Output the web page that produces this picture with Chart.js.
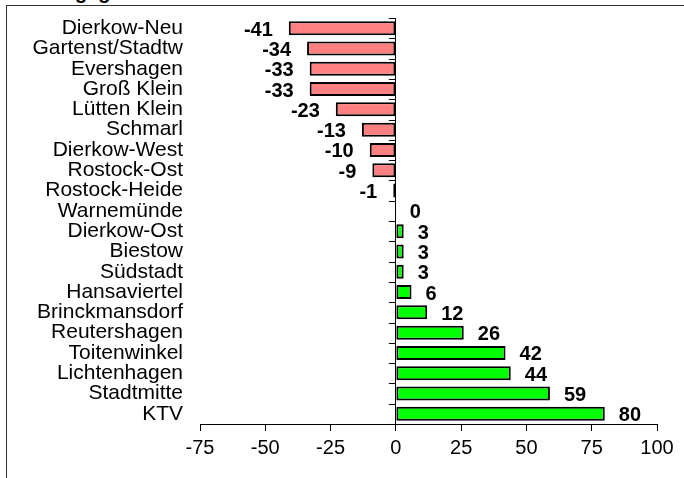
<!DOCTYPE html>
<html>
<head>
<meta charset="utf-8">
<script src="https://cdn.jsdelivr.net/npm/chart.js@4"></script>
<style>
  body { margin: 0; width: 684px; height: 478px; overflow: hidden; background: #fff; position: relative; font-family: "Liberation Sans", Arial, sans-serif; }
  #title { position: absolute; left: 75px; top: -18px; font: bold 20px "Liberation Sans", Arial, sans-serif; line-height: 20px; white-space: nowrap; color: #000; }
  #frame { position: absolute; left: 6px; top: 5px; width: 700px; height: 500px; border-left: 1px solid #333; border-top: 1px solid #333; }
  #chart { position: absolute; left: 0; top: 0; }
</style>
</head>
<body>
<div id="title">gegenüber dem Jahr 2010 nach Stadtbereichen in %</div>
<div id="frame"></div>
<canvas id="chart" width="684" height="478"></canvas>
<script>
const categories = ['Dierkow-Neu', 'Gartenst/Stadtw', 'Evershagen', 'Groß Klein', 'Lütten Klein', 'Schmarl',
    'Dierkow-West', 'Rostock-Ost', 'Rostock-Heide', 'Warnemünde', 'Dierkow-Ost', 'Biestow', 'Südstadt',
    'Hansaviertel', 'Brinckmansdorf', 'Reutershagen', 'Toitenwinkel', 'Lichtenhagen', 'Stadtmitte', 'KTV'];
const values = [-41, -34, -33, -33, -23, -13, -10, -9, -1, 0, 3, 3, 3, 6, 12, 26, 42, 44, 59, 80];
const xMin = -75;
const xMax = 100;
const xStep = 25;

// kleine Striche an der Nulllinie zwischen den Kategorien
const catTicks = {
    id: 'catTicks',
    afterDraw(chart) {
        const ctx = chart.ctx;
        const y = chart.scales.y;
        const x0 = chart.scales.x.getPixelForValue(0);
        const n = categories.length;
        ctx.save();
        ctx.strokeStyle = '#000';
        ctx.lineWidth = 1;
        ctx.beginPath();
        for (let i = 0; i <= n; i++) {
            const py = Math.round(y.top + i * y.height / n) + 0.5;
            ctx.moveTo(x0 - 7, py);
            ctx.lineTo(x0, py);
        }
        ctx.stroke();
        ctx.restore();
    }
};

// Werte neben den Balken
const valueLabels = {
    id: 'valueLabels',
    afterDatasetsDraw(chart) {
        const ctx = chart.ctx;
        const meta = chart.getDatasetMeta(0);
        ctx.save();
        ctx.font = 'bold 20px "Liberation Sans", Arial, sans-serif';
        ctx.fillStyle = '#000';
        ctx.textBaseline = 'middle';
        meta.data.forEach((bar, i) => {
            const v = values[i];
            if (v < 0) {
                ctx.textAlign = 'right';
                ctx.fillText(String(v), bar.x - 16, bar.y + 2);
            } else {
                ctx.textAlign = 'left';
                ctx.fillText(String(v), bar.x + 14, bar.y + 2);
            }
        });
        ctx.restore();
    }
};

new Chart(document.getElementById('chart'), {
    type: 'bar',
    data: {
        labels: categories,
        datasets: [{
            data: values,
            backgroundColor: values.map(v => v < 0 ? '#FF8080' : '#00FF00'),
            borderColor: '#000',
            borderWidth: 2,
            borderSkipped: false,
            barPercentage: 0.69,
            categoryPercentage: 1
        }]
    },
    options: {
        indexAxis: 'y',
        responsive: false,
        animation: false,
        layout: { padding: { left: 0, right: 27, top: 18, bottom: 0 } },
        plugins: {
            legend: { display: false },
            tooltip: { enabled: false }
        },
        scales: {
            x: {
                min: xMin,
                max: xMax,
                grid: {
                    color: c => (c.tick && c.tick.value === 0) ? '#000' : 'rgba(0,0,0,0)',
                    tickColor: '#000',
                    tickLength: 7,
                    lineWidth: 1
                },
                border: { display: true, color: '#000', width: 1 },
                ticks: {
                    stepSize: xStep,
                    color: '#000',
                    font: { family: '"Liberation Sans", Arial, sans-serif', size: 20 },
                    padding: 5,
                    maxRotation: 0,
                    autoSkip: false
                },
                afterFit: s => { s.height = 54; }
            },
            y: {
                grid: { display: false, drawTicks: false },
                border: { display: false },
                ticks: {
                    color: '#000',
                    font: { family: '"Liberation Sans", Arial, sans-serif', size: 21 },
                    padding: 17,
                    autoSkip: false
                },
                afterFit: s => {
                    s.width = 200;
                    s.paddingTop = 0;
                    s.paddingBottom = 0;
                }
            }
        }
    },
    plugins: [catTicks, valueLabels]
});
</script>
</body>
</html>
